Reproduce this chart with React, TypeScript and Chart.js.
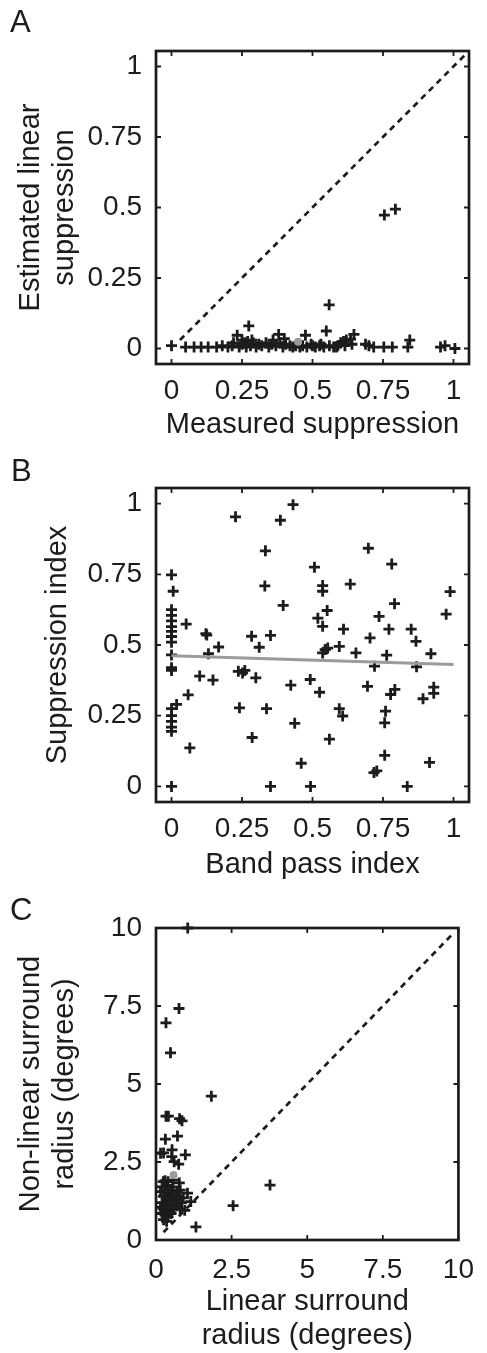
import React, { useEffect, useRef } from 'react';
import { Chart, registerables } from 'chart.js';

Chart.register(...registerables);

const FONT = '"Liberation Sans", Arial, Helvetica, sans-serif';
const INK = '#1c1c1c';
const GREY = '#9b9b9b';

// ---------- Panel A data ----------
const aMeasured = [0.0, 0.05, 0.08, 0.105, 0.13, 0.16, 0.18, 0.2, 0.215, 0.233, 0.274, 0.24, 0.25, 0.26, 0.265, 0.27, 0.28, 0.29, 0.3, 0.31, 0.32, 0.335, 0.345, 0.355, 0.37, 0.38, 0.385, 0.395, 0.405, 0.42, 0.43, 0.475, 0.465, 0.48, 0.495, 0.51, 0.525, 0.54, 0.549, 0.559, 0.56, 0.575, 0.59, 0.6, 0.61, 0.62, 0.635, 0.647, 0.64, 0.688, 0.7, 0.717, 0.753, 0.783, 0.755, 0.794, 0.845, 0.838, 0.954, 0.97, 1.005, 0.44, 0.455, 0.5, 0.53, 0.585, 0.615, 0.22, 0.25, 0.285, 0.36, 0.4];
const aEstimated = [0.01, 0.005, 0.005, 0.005, 0.005, 0.005, 0.01, 0.005, 0.01, 0.047, 0.08, 0.005, 0.015, 0.02, 0.005, 0.025, 0.01, 0.02, 0.005, 0.015, 0.01, 0.02, 0.005, 0.015, 0.01, 0.05, 0.02, 0.005, 0.015, 0.01, 0.005, 0.047, 0.01, 0.005, 0.015, 0.005, 0.01, 0.005, 0.062, 0.155, 0.01, 0.005, 0.01, 0.02, 0.025, 0.03, 0.033, 0.05, 0.015, 0.015, 0.01, 0.005, 0.005, 0.005, 0.473, 0.494, 0.03, 0.005, 0.005, 0.01, 0.0, 0.01, 0.005, 0.01, 0.015, 0.005, 0.01, 0.02, 0.03, 0.03, 0.03, 0.035];
const aMean = [0.449, 0.024];
const aIdentity = [0.03, 1.05];

// ---------- Panel B data ----------
const bBandPass = [0, 0.006, 0, 0, 0, 0, 0, 0, 0, 0, 0, 0, 0.018, 0, 0, 0, 0, 0, 0,
  0.052, 0.059, 0.065, 0.1, 0.122, 0.125, 0.131, 0.147, 0.167, 0.227, 0.241, 0.237, 0.252, 0.26, 0.284, 0.286, 0.299, 0.311, 0.333, 0.331, 0.337, 0.351, 0.351, 0.386, 0.396, 0.423, 0.431, 0.437, 0.46, 0.492, 0.493, 0.507, 0.519, 0.525, 0.536, 0.536, 0.536, 0.536, 0.552, 0.554, 0.545, 0.56, 0.595, 0.595, 0.607, 0.61, 0.634, 0.654, 0.698, 0.695, 0.704, 0.72, 0.718, 0.728, 0.736, 0.756, 0.759, 0.756, 0.763, 0.771, 0.781, 0.777, 0.792, 0.791, 0.836, 0.85, 0.867, 0.869, 0.892, 0.915, 0.92, 0.93, 0.93, 0.974, 0.988];
const bSuppression = [0.748, 0.69, 0.625, 0.605, 0.585, 0.565, 0.548, 0.53, 0.51, 0.465, 0.42, 0.41, 0.29, 0.275, 0.25, 0.23, 0.21, 0.195, 0.0,
  0.574, 0.324, 0.136, 0.39, 0.54, 0.535, 0.469, 0.376, 0.493, 0.953, 0.278, 0.407, 0.401, 0.41, 0.531, 0.173, 0.384, 0.492, 0.833, 0.709, 0.275, 0.534, 0.0, 0.941, 0.64, 0.358, 0.996, 0.223, 0.082, 0.378, 0.0, 0.775, 0.595, 0.333, 0.71, 0.69, 0.566, 0.472, 0.622, 0.489, 0.484, 0.167, 0.495, 0.275, 0.249, 0.556, 0.715, 0.472, 0.842, 0.354, 0.525, 0.425, 0.049, 0.055, 0.601, 0.11, 0.266, 0.225, 0.464, 0.556, 0.786, 0.325, 0.343, 0.646, 0.0, 0.556, 0.513, 0.423, 0.31, 0.085, 0.469, 0.351, 0.329, 0.609, 0.689];
const bFitX = [0, 1];
const bFitY = [0.462, 0.431];

// ---------- Panel C data ----------
const cLinear = [0.33, 0.76, 0.48, 1.83, 0.33, 0.41, 0.78, 0.86, 0.31, 0.71, 0.15, 0.25, 0.53, 0.52, 0.97, 0.6, 0.75, 3.77, 2.55, 1.32, 1.05,
  0.24, 0.4, 0.56, 0.77, 1.04, 1.15, 0.9, 0.2, 0.3, 0.4, 0.25, 0.35, 0.45, 0.2, 0.3, 0.4, 0.5, 0.6, 0.7, 0.8, 0.65, 0.75, 0.55, 0.25, 0.35, 0.45, 0.2, 0.3, 0.4, 0.5, 0.6, 0.7, 0.8, 0.95, 0.85, 0.25, 0.35, 0.5, 0.35, 0.55, 0.3, 0.15, 0.15];
const cNonLinear = [6.96, 7.42, 6.0, 4.61, 3.97, 3.97, 3.89, 3.82, 3.23, 3.33, 2.78, 2.79, 2.89, 2.67, 2.73, 2.51, 2.43, 1.76, 1.1, 0.42, 10.0,
  1.87, 1.87, 1.92, 1.83, 1.5, 1.23, 1.35, 1.7, 1.6, 1.5, 1.4, 1.3, 1.35, 1.2, 1.1, 1.15, 1.25, 1.45, 1.55, 1.6, 1.3, 1.4, 1.1, 1.0, 0.95, 0.9, 0.85, 0.8, 0.75, 0.85, 1.0, 1.1, 1.0, 0.95, 1.2, 0.65, 0.6, 1.6, 1.75, 1.7, 1.9, 1.55, 1.05];
const cMean = [0.58, 2.08];
const cIdentity = [0.25, 9.85];

// ---------- ticks ----------
const unitTicks = [0, 0.25, 0.5, 0.75, 1];
const unitTickLabels = ['0', '0.25', '0.5', '0.75', '1'];
const degTicks = [0, 2.5, 5, 7.5, 10];
const degTickLabels = ['0', '2.5', '5', '7.5', '10'];

const zip = (xs: number[], ys: number[]) => xs.map((x, i) => ({ x, y: ys[i] }));

const framePlugin = {
  id: 'frameTicks',
  afterDatasetsDraw(chart: any, _args: any, opts: any) {
    const { ctx, chartArea: a, scales } = chart;
    const len = 5;
    ctx.save();
    ctx.strokeStyle = INK;
    ctx.lineWidth = 1.8;
    ctx.beginPath();
    scales.x.ticks.forEach((t: any) => {
      const p = scales.x.getPixelForValue(t.value);
      ctx.moveTo(p, a.bottom); ctx.lineTo(p, a.bottom - len);
      ctx.moveTo(p, a.top); ctx.lineTo(p, a.top + len);
    });
    scales.y.ticks.forEach((t: any) => {
      const p = scales.y.getPixelForValue(t.value);
      ctx.moveTo(a.left, p); ctx.lineTo(a.left + len, p);
      ctx.moveTo(a.right, p); ctx.lineTo(a.right - len, p);
    });
    ctx.stroke();
    ctx.lineWidth = 2.7;
    ctx.strokeRect(a.left, a.top, a.right - a.left, a.bottom - a.top);
    ctx.fillStyle = INK;
    ctx.font = `31px ${FONT}`;
    ctx.textBaseline = 'alphabetic';
    ctx.textAlign = 'left';
    ctx.fillText(opts.letter, opts.lx, opts.ly);
    ctx.restore();
  },
};

type Spec = {
  top: number;
  height: number;
  areaTop: number;
  areaBottom: number;
  min: number;
  max: number;
  ticks: number[];
  labels: string[];
  datasets: any[];
  xTitle: string | string[];
  yTitle: string | string[];
  xTickPad: number;
  xTitlePad: number;
  yTitlePad: number;
  letter: string;
  lx: number;
  ly: number;
};

function makeScale(spec: Spec, axis: 'x' | 'y') {
  return {
    type: 'linear',
    min: spec.min,
    max: spec.max,
    grid: { display: false, drawTicks: false },
    border: { display: false },
    afterBuildTicks: (s: any) => {
      s.ticks = spec.ticks.map((v) => ({ value: v }));
    },
    afterFit: (s: any) => {
      if (axis === 'y') s.width = 156;
      else s.height = spec.height - spec.areaBottom;
    },
    ticks: {
      color: INK,
      font: { family: FONT, size: 28 },
      padding: axis === 'y' ? 14 : spec.xTickPad,
      maxRotation: 0,
      autoSkip: false,
      callback: (v: number) => {
        const i = spec.ticks.indexOf(v);
        return i >= 0 ? spec.labels[i] : '';
      },
    },
    title: {
      display: true,
      text: axis === 'x' ? spec.xTitle : spec.yTitle,
      color: INK,
      font: { family: FONT, size: 29, lineHeight: 34 / 29 },
      padding: axis === 'x' ? { top: 0, bottom: spec.xTitlePad } : { top: spec.yTitlePad, bottom: 0 },
    },
  };
}

function Panel({ spec }: { spec: Spec }) {
  const ref = useRef<HTMLCanvasElement>(null);
  useEffect(() => {
    if (!ref.current) return;
    const chart = new Chart(ref.current, {
      type: 'scatter',
      data: { datasets: spec.datasets },
      options: {
        responsive: false,
        animation: false,
        devicePixelRatio: 1,
        events: [],
        layout: { padding: { left: 0, right: 18, top: spec.areaTop, bottom: 0 } },
        plugins: {
          legend: { display: false },
          tooltip: { enabled: false },
          frameTicks: { letter: spec.letter, lx: spec.lx, ly: spec.ly },
        } as any,
        scales: { x: makeScale(spec, 'x'), y: makeScale(spec, 'y') } as any,
      },
      plugins: [framePlugin],
    } as any);
    return () => chart.destroy();
  }, []);
  return (
    <canvas
      ref={ref}
      width={487}
      height={spec.height}
      style={{ position: 'absolute', left: 0, top: spec.top, width: 487, height: spec.height }}
    />
  );
}

const crossSet = (data: any[]) => ({
  data,
  pointStyle: 'cross',
  pointRadius: 5.5,
  pointBorderWidth: 2.8,
  borderColor: INK,
  backgroundColor: INK,
  showLine: false,
  clip: false,
});
const meanSet = (data: any[]) => ({
  data,
  pointStyle: 'circle',
  pointRadius: 4,
  pointBorderWidth: 0,
  backgroundColor: GREY,
  borderColor: GREY,
  showLine: false,
});
const identitySet = (ends: number[]) => ({
  data: zip(ends, ends),
  showLine: true,
  pointRadius: 0,
  borderColor: INK,
  borderWidth: 2.7,
  borderDash: [6, 5],
});

const specA: Spec = {
  top: 0, height: 460, areaTop: 51, areaBottom: 364,
  min: -0.055, max: 1.055, ticks: unitTicks, labels: unitTickLabels,
  datasets: [meanSet([{ x: aMean[0], y: aMean[1] }]), crossSet(zip(aMeasured, aEstimated)), identitySet(aIdentity)],
  xTitle: 'Measured suppression', yTitle: ['Estimated linear', 'suppression'],
  xTickPad: 10, xTitlePad: 18, yTitlePad: 14, letter: 'A', lx: 10, ly: 32,
};
const specB: Spec = {
  top: 440, height: 460, areaTop: 48, areaBottom: 362,
  min: -0.055, max: 1.055, ticks: unitTicks, labels: unitTickLabels,
  datasets: [
    { data: zip(bFitX, bFitY), showLine: true, pointRadius: 0, borderColor: GREY, borderWidth: 3.2 },
    crossSet(zip(bBandPass, bSuppression)),
  ],
  xTitle: 'Band pass index', yTitle: 'Suppression index',
  xTickPad: 10, xTitlePad: 18, yTitlePad: 41, letter: 'B', lx: 11, ly: 41,
};
const specC: Spec = {
  top: 890, height: 463, areaTop: 38, areaBottom: 350,
  min: 0, max: 10, ticks: degTicks, labels: degTickLabels,
  datasets: [meanSet([{ x: cMean[0], y: cMean[1] }]), crossSet(zip(cLinear, cNonLinear)), identitySet(cIdentity)],
  xTitle: ['Linear surround', 'radius (degrees)'], yTitle: ['Non-linear surround', 'radius (degrees)'],
  xTickPad: 13, xTitlePad: 0, yTitlePad: 14, letter: 'C', lx: 10, ly: 30,
};

export default function App() {
  return (
    <div style={{ position: 'absolute', left: 0, top: 0, width: 487, height: 1353, background: '#fff' }}>
      <Panel spec={specA} />
      <Panel spec={specB} />
      <Panel spec={specC} />
    </div>
  );
}
